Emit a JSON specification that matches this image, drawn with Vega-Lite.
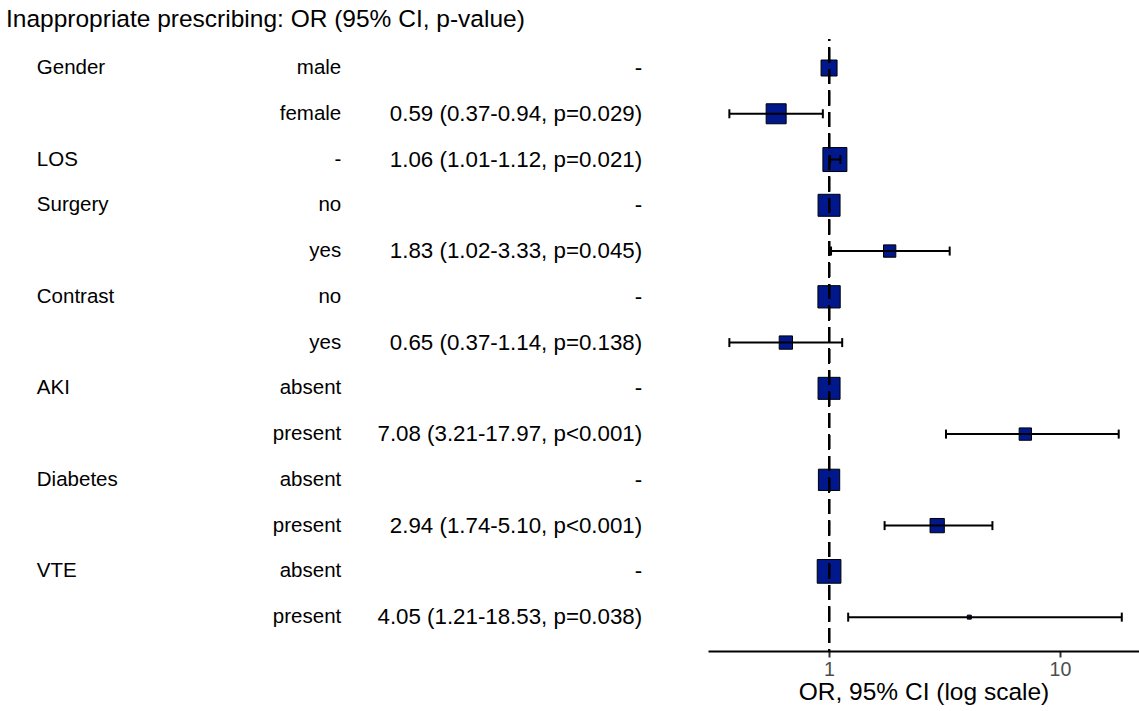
{
  "$schema": "https://vega.github.io/schema/vega-lite/v6.json",
  "padding": {"left": 0, "top": 6, "right": 0, "bottom": 0},
  "spacing": 0,
  "bounds": "flush",
  "title": {"text": "Inappropriate prescribing: OR (95% CI, p-value)", "anchor": "start", "fontSize": 24.5, "font": "Liberation Sans", "fontWeight": "normal", "color": "black", "offset": 6, "dx": 6},
  "config": {"view": {"stroke": null}, "font": "Liberation Sans"},
  "data": {"values": [
    {"row": 1, "label": "Gender", "level": "male", "ortext": "-", "or": 1, "lower": null, "upper": null, "n": 256},
    {"row": 2, "label": "", "level": "female", "ortext": "0.59 (0.37-0.94, p=0.029)", "or": 0.59, "lower": 0.37, "upper": 0.94, "n": 400},
    {"row": 3, "label": "LOS", "level": "-", "ortext": "1.06 (1.01-1.12, p=0.021)", "or": 1.06, "lower": 1.01, "upper": 1.12, "n": 576},
    {"row": 4, "label": "Surgery", "level": "no", "ortext": "-", "or": 1, "lower": null, "upper": null, "n": 484},
    {"row": 5, "label": "", "level": "yes", "ortext": "1.83 (1.02-3.33, p=0.045)", "or": 1.83, "lower": 1.02, "upper": 3.33, "n": 152},
    {"row": 6, "label": "Contrast", "level": "no", "ortext": "-", "or": 1, "lower": null, "upper": null, "n": 497},
    {"row": 7, "label": "", "level": "yes", "ortext": "0.65 (0.37-1.14, p=0.138)", "or": 0.65, "lower": 0.37, "upper": 1.14, "n": 177},
    {"row": 8, "label": "AKI", "level": "absent", "ortext": "-", "or": 1, "lower": null, "upper": null, "n": 484},
    {"row": 9, "label": "", "level": "present", "ortext": "7.08 (3.21-17.97, p<0.001)", "or": 7.08, "lower": 3.21, "upper": 17.97, "n": 152},
    {"row": 10, "label": "Diabetes", "level": "absent", "ortext": "-", "or": 1, "lower": null, "upper": null, "n": 454},
    {"row": 11, "label": "", "level": "present", "ortext": "2.94 (1.74-5.10, p<0.001)", "or": 2.94, "lower": 1.74, "upper": 5.10, "n": 204},
    {"row": 12, "label": "VTE", "level": "absent", "ortext": "-", "or": 1, "lower": null, "upper": null, "n": 562},
    {"row": 13, "label": "", "level": "present", "ortext": "4.05 (1.21-18.53, p=0.038)", "or": 4.05, "lower": 1.21, "upper": 18.53, "n": 16}
  ]},
  "hconcat": [
    {
      "width": 708,
      "height": 612,
      "layer": [
        {
          "mark": {"type": "text", "align": "left", "baseline": "middle", "fontSize": 20.5, "color": "black"},
          "encoding": {
            "x": {"datum": 5.2, "type": "quantitative", "scale": {"domain": [0, 100]}, "axis": null},
            "y": {"field": "row", "type": "quantitative", "scale": {"domain": [0.366, 13.74], "reverse": true, "nice": false, "zero": false}, "axis": null},
            "text": {"field": "label"}
          }
        },
        {
          "mark": {"type": "text", "align": "right", "baseline": "middle", "fontSize": 20.5, "color": "black"},
          "encoding": {
            "x": {"datum": 48.2, "type": "quantitative", "axis": null},
            "y": {"field": "row", "type": "quantitative", "axis": null},
            "text": {"field": "level"}
          }
        },
        {
          "mark": {"type": "text", "align": "right", "baseline": "middle", "fontSize": 22.3, "color": "black"},
          "encoding": {
            "x": {"datum": 90.7, "type": "quantitative", "axis": null},
            "y": {"field": "row", "type": "quantitative", "axis": null},
            "text": {"field": "ortext"}
          }
        }
      ]
    },
    {
      "width": 431,
      "height": 612,
      "layer": [
        {
          "mark": {"type": "point", "shape": "square", "filled": true, "fill": "#00188c", "stroke": "black", "strokeWidth": 1, "opacity": 1},
          "encoding": {
            "x": {"field": "or", "type": "quantitative",
                  "scale": {"type": "log", "domain": [0.299, 22], "nice": false, "zero": false},
                  "axis": {"values": [1, 10], "format": "d", "grid": false, "domainColor": "black", "domainWidth": 2, "tickColor": "#333333", "tickWidth": 2, "tickSize": 6, "labelColor": "#4d4d4d", "labelFontSize": 19.6, "labelFont": "Liberation Sans", "labelPadding": 3, "title": "OR, 95% CI (log scale)", "titleFontSize": 24.5, "titleFont": "Liberation Sans", "titleFontWeight": "normal", "titleColor": "black", "titlePadding": 2}},
            "y": {"field": "row", "type": "quantitative", "scale": {"domain": [0.366, 13.74], "reverse": true, "nice": false, "zero": false}, "axis": null},
            "size": {"field": "n", "type": "quantitative", "scale": {"domain": [0, 600], "range": [0, 600]}, "legend": null}
          }
        },
        {
          "transform": [{"filter": "datum.lower != null"}],
          "mark": {"type": "rule", "color": "black", "strokeWidth": 2},
          "encoding": {
            "x": {"field": "lower", "type": "quantitative"},
            "x2": {"field": "upper"},
            "y": {"field": "row", "type": "quantitative"}
          }
        },
        {
          "transform": [{"filter": "datum.lower != null"}],
          "mark": {"type": "tick", "orient": "vertical", "size": 9, "thickness": 2, "color": "black", "opacity": 1},
          "encoding": {
            "x": {"field": "lower", "type": "quantitative"},
            "y": {"field": "row", "type": "quantitative"}
          }
        },
        {
          "transform": [{"filter": "datum.upper != null"}],
          "mark": {"type": "tick", "orient": "vertical", "size": 9, "thickness": 2, "color": "black", "opacity": 1},
          "encoding": {
            "x": {"field": "upper", "type": "quantitative"},
            "y": {"field": "row", "type": "quantitative"}
          }
        },
        {
          "mark": {"type": "rule", "color": "black", "strokeWidth": 2, "strokeDash": [15, 6.5], "strokeDashOffset": 13},
          "encoding": {
            "x": {"datum": 1, "type": "quantitative"}
          }
        }
      ]
    }
  ]
}
